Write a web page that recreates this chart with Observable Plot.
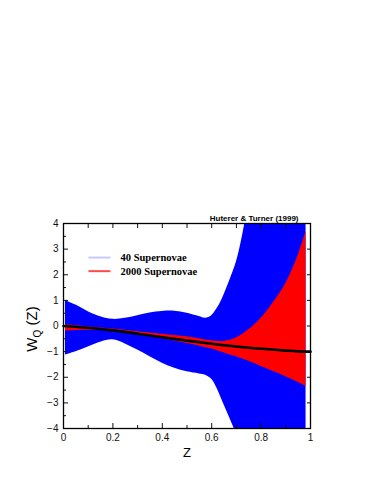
<!DOCTYPE html>
<html>
<head>
<meta charset="utf-8">
<script src="https://cdn.jsdelivr.net/npm/d3@7"></script>
<script src="https://cdn.jsdelivr.net/npm/@observablehq/plot@0.6"></script>
<style>
  html, body { margin: 0; padding: 0; background: #fff; }
  #chart { width: 374px; height: 484px; }
</style>
</head>
<body>
<div id="chart"></div>
<script>
// ---- data ----
const zBlue    = [0.008, 0.05, 0.1, 0.15, 0.2, 0.25, 0.3, 0.35, 0.4, 0.45, 0.5, 0.55, 0.575, 0.6, 0.62, 0.64, 0.66, 0.68, 0.7, 0.72, 0.74, 0.76, 0.85, 0.982];
const blueHigh = [1.0, 0.82, 0.56, 0.36, 0.26, 0.3, 0.4, 0.51, 0.57, 0.58, 0.5, 0.37, 0.3, 0.4, 0.65, 1.0, 1.45, 1.95, 2.5, 3.3, 4.3, 5.3, 7, 9];
const blueLow  = [-1.13, -1.0, -0.82, -0.63, -0.54, -0.7, -0.94, -1.2, -1.45, -1.65, -1.79, -1.87, -1.92, -2.08, -2.4, -2.85, -3.3, -3.75, -4.2, -4.6, -5.0, -5.4, -7, -9];

const zRed    = [0.008, 0.1, 0.2, 0.3, 0.4, 0.5, 0.6, 0.65, 0.7, 0.75, 0.8, 0.85, 0.9, 0.95, 0.982];
const redHigh = [0.05, -0.03, -0.12, -0.22, -0.32, -0.42, -0.58, -0.6, -0.47, -0.15, 0.3, 0.92, 1.65, 2.75, 3.7];
const redLow  = [-0.2, -0.17, -0.2, -0.33, -0.5, -0.68, -0.9, -1.05, -1.2, -1.38, -1.58, -1.78, -1.98, -2.2, -2.35];

const zLine = [0, 0.1, 0.2, 0.3, 0.4, 0.5, 0.6, 0.7, 0.8, 0.9, 0.95, 1.0];
const wLine = [0, -0.07, -0.17, -0.3, -0.44, -0.57, -0.69, -0.8, -0.89, -0.96, -0.99, -1.0];

const xMajor = [0, 0.2, 0.4, 0.6, 0.8, 1];
const xMinor = [0.1, 0.3, 0.5, 0.7, 0.9];
const yMajor = [-4, -3, -2, -1, 0, 1, 2, 3, 4];
const yMinor = [-3.5, -2.5, -1.5, -0.5, 0.5, 1.5, 2.5, 3.5];

const legendLabels = ["40 Supernovae", "2000 Supernovae"];
const legendColors = ["#c8c8ff", "#ff4a4a"];
const legendY = [2.67, 2.14];

const title = "Huterer & Turner (1999)";
const xLabel = "Z";

// ---- tables ----
const blue = zBlue.map((z, i) => ({z, lo: blueLow[i], hi: blueHigh[i]}));
const red = zRed.map((z, i) => ({z, lo: redLow[i], hi: redHigh[i]}));
const line = zLine.map((z, i) => ({z, w: wLine[i]}));
const legend = legendLabels.map((label, i) => ({label, color: legendColors[i], y: legendY[i]}));

const sans = "'Liberation Sans', Arial, Helvetica, sans-serif";

const plot = Plot.plot({
  width: 374,
  height: 484,
  marginTop: 223,
  marginBottom: 56,
  marginLeft: 63,
  marginRight: 64,
  style: {fontFamily: sans, fontSize: "10px", color: "#111", background: "#fff"},
  x: {domain: [0, 1], label: null},
  y: {domain: [-4, 4], label: null},
  marks: [
    Plot.areaY(blue, {x: "z", y1: "lo", y2: "hi", fill: "#0000ff", curve: "catmull-rom", clip: true}),
    Plot.areaY(red, {x: "z", y1: "lo", y2: "hi", fill: "#ff0000", curve: "catmull-rom", clip: true}),
    Plot.line(line, {x: "z", y: "w", stroke: "black", strokeWidth: 2.6, curve: "catmull-rom"}),
    // legend
    Plot.link(legend, {x1: 0.101, x2: 0.19, y1: "y", y2: "y", stroke: "color", strokeWidth: 2}),
    Plot.text(legend, {x: 0.231, y: "y", text: "label", textAnchor: "start", fontFamily: "'Liberation Serif', 'Times New Roman', serif", fontWeight: "bold", fontSize: 10.5, fill: "black"}),
    // title
    Plot.text([title], {frameAnchor: "top-right", dx: -12, dy: -3, lineAnchor: "bottom", text: d => d, fontWeight: "bold", fontSize: 8, fill: "black"}),
    // x label
    Plot.text([xLabel], {frameAnchor: "bottom", dy: 24, lineAnchor: "middle", text: d => d, fontSize: 13, fill: "black"}),
    // axes
    Plot.axisX(xMajor, {anchor: "bottom", label: null, tickSize: -5, tickPadding: 10, tickFormat: d => String(d), fontSize: 10}),
    Plot.axisX(xMinor, {anchor: "bottom", label: null, tickSize: -3, tickFormat: () => ""}),
    Plot.axisX([...xMajor, ...xMinor], {anchor: "top", label: null, tickSize: -4, tickFormat: () => ""}),
    Plot.axisY(yMajor, {anchor: "left", label: null, tickSize: -5, tickPadding: 10, fontSize: 10}),
    Plot.axisY(yMinor, {anchor: "left", label: null, tickSize: -3, tickFormat: () => ""}),
    Plot.axisY(yMajor, {anchor: "right", label: null, tickSize: -4, tickFormat: () => ""}),
    Plot.frame({stroke: "black", strokeWidth: 1.3})
  ]
});

document.getElementById("chart").appendChild(plot);

// rotated y label with subscript
const svg = d3.select(plot);
const yl = svg.append("text")
  .attr("transform", "translate(37,329) rotate(-90)")
  .attr("text-anchor", "middle")
  .attr("font-family", sans)
  .attr("font-size", 15)
  .attr("fill", "black");
yl.append("tspan").text("W");
yl.append("tspan").attr("font-size", 10).attr("dy", 4).text("Q");
yl.append("tspan").attr("dy", -4).text(" (Z)");
</script>
</body>
</html>
